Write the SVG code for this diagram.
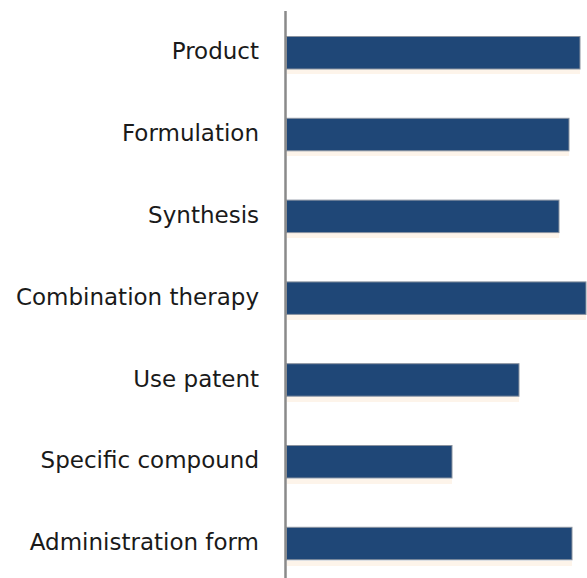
<svg xmlns="http://www.w3.org/2000/svg" width="587" height="578" viewBox="0 0 587 578">
<style>
.lbl{font-family:"DejaVu Sans",sans-serif;font-size:23px;fill:#1a1a1a;text-anchor:end}
.bar{fill:#1f4777;stroke:#8a93a0;stroke-width:1}
.sh{fill:#fdf4ea}
.axis{stroke:#8a8a8a;stroke-width:2.5}
</style>
<rect width="587" height="578" fill="#ffffff"/>
<g id="product"><rect class="sh" x="287" y="69" width="293" height="5"/><rect class="bar" x="286.5" y="36.5" width="293.5" height="32.5"/><text class="lbl" x="259" y="59.3">Product</text></g>
<g id="formulation"><rect class="sh" x="287" y="151" width="282" height="5"/><rect class="bar" x="286.5" y="118.3" width="282.5" height="32.5"/><text class="lbl" x="259" y="141.1">Formulation</text></g>
<g id="synthesis"><rect class="sh" x="287" y="233" width="272" height="5"/><rect class="bar" x="286.5" y="200.1" width="272.5" height="32.5"/><text class="lbl" x="259" y="222.9">Synthesis</text></g>
<g id="combination"><rect class="sh" x="287" y="315" width="299" height="5"/><rect class="bar" x="286.5" y="281.9" width="299.5" height="32.5"/><text class="lbl" x="259" y="304.7">Combination therapy</text></g>
<g id="use-patent"><rect class="sh" x="287" y="397" width="232" height="5"/><rect class="bar" x="286.5" y="363.7" width="232.5" height="32.5"/><text class="lbl" x="259" y="386.5">Use patent</text></g>
<g id="specific-compound"><rect class="sh" x="287" y="479" width="165" height="5"/><rect class="bar" x="286.5" y="445.5" width="165.5" height="32.5"/><text class="lbl" x="259" y="468.3">Specific compound</text></g>
<g id="administration-form"><rect class="sh" x="287" y="561" width="285" height="5"/><rect class="bar" x="286.5" y="527.3" width="285.5" height="32.5"/><text class="lbl" x="259" y="550.1">Administration form</text></g>
<g id="connectors"><line class="axis" x1="285.5" y1="11" x2="285.5" y2="578"/></g>
</svg>
